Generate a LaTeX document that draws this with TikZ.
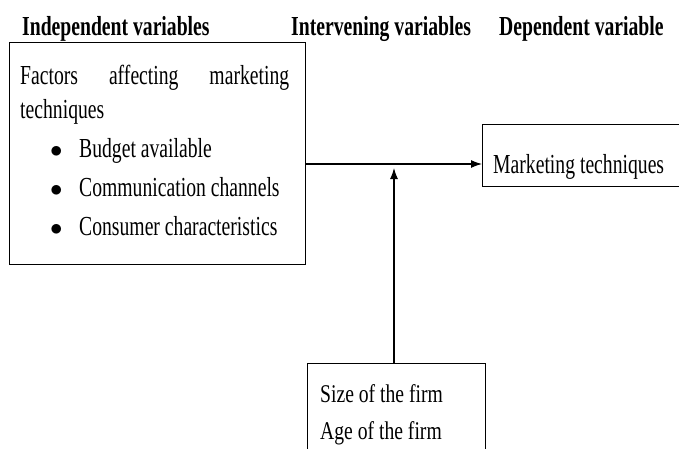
\documentclass[tikz,border=0pt]{standalone}
\usepackage{fontspec}
\setmainfont{Liberation Serif}[FakeStretch=0.77]
\newfontfamily\tallserif{Liberation Serif}[FakeStretch=0.715]
\usetikzlibrary{arrows.meta}

\tikzset{
  box/.style={draw,line width=1.1pt,inner sep=0pt,anchor=north west},
  txt/.style={anchor=base west,inner sep=0pt},
  tall/.style={txt,font=\tallserif\fontsize{27.5}{30}\selectfont},
  head/.style={tall,font=\tallserif\fontsize{27.5}{30}\selectfont\bfseries},
  arr/.style={line width=1.1pt,-{Latex[length=11pt,width=8pt]}}
}

\begin{document}
\begin{tikzpicture}[x=1pt,y=-1pt,font=\fontsize{25.5}{30}\selectfont]
  \useasboundingbox (0,0) rectangle (679,448);
  \clip (0,0) rectangle (679,448);
  % headings
  \node[head] (hind) at (22,35)  {Independent variables};
  \node[head] (hint) at (291,35) {Intervening variables};
  \node[head] (hdep) at (499,35) {Dependent variable};
  % independent variables
  \node[box,minimum width=296pt,minimum height=222pt] (indep) at (9,42) {};
  \node[tall] (fact) at (20,84) {\makebox[269pt][s]{Factors affecting marketing}};
  \node[tall] (tech) at (20,118) {techniques};
  \node[tall] (b1) at (50,157) {$\bullet$};
  \node[tall] (b2) at (50,196) {$\bullet$};
  \node[tall] (b3) at (50,235) {$\bullet$};
  \node[tall] (budg) at (79,157) {Budget available};
  \node[tall] (comm) at (79,196) {Communication channels};
  \node[tall] (cons) at (79,235) {Consumer characteristics};
  % dependent variable
  \node[box,minimum width=230pt,minimum height=62pt] (dep) at (482,124) {};
  \node[tall] (mark) at (493,173) {Marketing techniques};
  % intervening variables
  \node[box,minimum width=178pt,minimum height=100pt] (ctrl) at (307,363) {};
  \node[txt] (size) at (320,402) {Size of the firm};
  \node[txt] (age) at (320,439) {Age of the firm};
  % arrows
  \coordinate (jn) at (394,164);
  \draw[arr] (indep.east |- jn) -- (dep.west |- jn);
  \draw[arr] (ctrl.north -| jn) -- ([yshift=-4pt]jn);
\end{tikzpicture}
\end{document}
